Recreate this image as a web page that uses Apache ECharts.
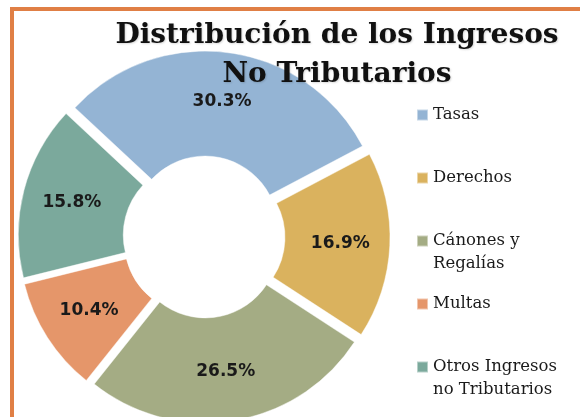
<!DOCTYPE html>
<html lang="es">
<head>
<meta charset="UTF-8">
<title>Distribución de los Ingresos No Tributarios</title>
<script src="https://cdn.jsdelivr.net/npm/echarts@6/dist/echarts.min.js"></script>
<style>
  html, body { margin: 0; padding: 0; background: #fff; }
  #main { width: 580px; height: 417px; }
</style>
</head>
<body>
<div id="main"></div>
<script>
// datos
var categorias = ['Tasas', 'Derechos', 'Cánones y Regalías', 'Multas', 'Otros Ingresos no Tributarios'];
var valores = [30.3, 16.9, 26.5, 10.4, 15.8];
var etiquetasLeyenda = ['Tasas', 'Derechos', 'Cánones y\nRegalías', 'Multas', 'Otros Ingresos\nno Tributarios'];
var colores = ['#94B4D4', '#DAB25E', '#A4AC84', '#E5966A', '#7BA99C'];

var myChart = echarts.init(document.getElementById('main'));

// una leyenda por entrada, la primera linea de texto queda cada 63px
// (las de dos lineas llevan una linea vacia arriba para que el cuadro quede en la primera)
var leyendas = categorias.map(function (nombre, i) {
    var dosLineas = etiquetasLeyenda[i].indexOf('\n') >= 0;
    var centro = 115 + 63 * i;
    return {
        orient: 'vertical',
        left: 416,
        top: dosLineas ? centro - 34.5 : centro - 11.5,
        padding: 0,
        itemWidth: 11,
        itemHeight: 11,
        icon: 'rect',
        selectedMode: false,
        data: [nombre],
        formatter: function () { return dosLineas ? ' \n' + etiquetasLeyenda[i] : etiquetasLeyenda[i]; },
        textStyle: {
            fontFamily: 'DejaVu Serif',
            fontSize: 16.5,
            lineHeight: 23,
            color: '#1a1a1a'
        }
    };
});

myChart.setOption({
    backgroundColor: '#fff',
    animation: false,
    color: colores,
    title: {
        text: 'Distribución de los Ingresos\nNo Tributarios',
        left: 337,
        top: 16,
        padding: 0,
        textAlign: 'center',
        textStyle: {
            fontFamily: 'DejaVu Serif',
            fontWeight: 'bold',
            fontSize: 28,
            lineHeight: 39,
            color: '#111',
            textShadowColor: 'rgba(0,0,0,0.15)',
            textShadowBlur: 2,
            textShadowOffsetX: 1,
            textShadowOffsetY: 1
        }
    },
    legend: leyendas,
    graphic: [{
        type: 'rect',
        shape: { x: 12, y: 9, width: 700, height: 600 },
        style: { fill: 'none', stroke: '#E07F45', lineWidth: 4 },
        z: 0
    }],
    series: [{
        type: 'pie',
        center: [204, 237],
        radius: [73, 178],
        startAngle: 137,
        clockwise: true,
        selectedMode: 'multiple',
        selectedOffset: 8,
        avoidLabelOverlap: false,
        emphasis: { disabled: true },
        itemStyle: {
            borderColor: 'rgba(255,255,255,0.45)',
            borderWidth: 1
        },
        label: {
            show: true,
            position: 'inside',
            formatter: function (p) { return p.value.toFixed(1) + '%'; },
            fontFamily: 'DejaVu Sans',
            fontWeight: 'bold',
            fontSize: 17,
            color: '#1a1a1a'
        },
        labelLine: { show: false },
        data: categorias.map(function (nombre, i) {
            return { name: nombre, value: valores[i], selected: true };
        })
    }]
});
</script>
</body>
</html>
